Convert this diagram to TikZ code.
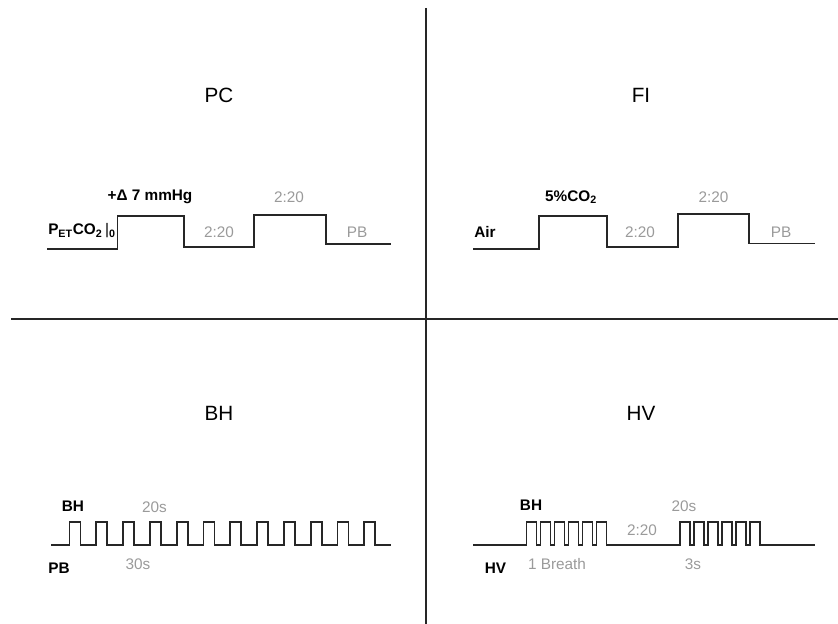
\documentclass[tikz,border=0pt]{standalone}
\usepackage{fontspec}
\setmainfont{Liberation Sans}
\usepackage{xcolor}
\usepackage{tikz}
\usetikzlibrary{positioning}
\definecolor{lblgray}{HTML}{9A9A9A}
\definecolor{linegray}{HTML}{262626}

\begin{document}
\begin{tikzpicture}[
  x=0.75pt, y=-0.75pt,
  ttl/.style={inner sep=0pt, font=\fontsize{15.5}{18}\selectfont},
  tag/.style={inner sep=0pt, font=\fontsize{11.5}{13}\selectfont\bfseries},
  lbl/.style={inner sep=0pt, text=lblgray, font=\fontsize{11.5}{13}\selectfont},
  wave/.style={draw=linegray, line width=1.3pt, line join=miter},
  divider/.style={draw=linegray, line width=1.1pt}
]
\useasboundingbox (0,0) rectangle (838,624);

% quadrant dividers
\draw[divider] (426,8) -- (426,624);
\draw[divider] (11,319) -- (838,319);

% titles
\node[ttl] (pc) at (219,95)  {PC};
\node[ttl] (fi) at (641,95)  {FI};
\node[ttl] (bh) at (219,413) {BH};
\node[ttl] (hv) at (641,413) {HV};

% PC
\draw[wave] (47,249) -- (117.5,249) -- (117.5,216) -- (184,216) -- (184,247)
  -- (254,247) -- (254,215) -- (326,215) -- (326,244) -- (391,244);
\node[tag, anchor=west] (pcBase) at (48,231) {P\textsubscript{ET}CO\textsubscript{2}\,{\mdseries\textbar}\textsubscript{0}};
\node[tag] (pcStep)  at (150,197) {+Δ 7 mmHg};
\node[lbl] (pcLowT)  at (219,232) {2:20};
\node[lbl] (pcHighT) at (289,197) {2:20};
\node[lbl] (pcEnd)   at (357,232) {PB};

% FI
\draw[wave] (473,249) -- (539,249) -- (539,216) -- (607,216) -- (607,247)
  -- (678,247) -- (678,214) -- (749,214) -- (749,243.5) -- (815,243.5);
\node[tag] (fiAir)   at (485,232) {Air};
\node[tag] (fiGas)   at (571,197) {5\%CO\textsubscript{2}};
\node[lbl] (fiLowT)  at (640,232) {2:20};
\node[lbl] (fiHighT) at (713.5,197) {2:20};
\node[lbl] (fiEnd)   at (781,232) {PB};

% BH
\draw[wave] (51,545) \foreach \k in {0,...,11} {
  -- ({69.5+26.8*\k},545) -- ++(0,-23) -- ++(11,0) -- ++(0,23) } -- (391,545);
\node[tag] (bhHold)  at (73,506.5) {BH};
\node[lbl] (bhHoldT) at (154.5,507) {20s};
\node[tag] (bhPace)  at (59,568)   {PB};
\node[lbl] (bhPaceT) at (138,564)  {30s};

% HV
\draw[wave] (473,545) \foreach \s in {526.5,680} { \foreach \k in {0,...,5} {
  -- ({\s+14*\k},545) -- ++(0,-23) -- ++(10,0) -- ++(0,23) } } -- (815,545);
\node[tag] (hvHold)   at (531,505)   {BH};
\node[lbl] (hvHoldT)  at (684,506)   {20s};
\node[lbl] (hvRestT)  at (642,530.5) {2:20};
\node[tag] (hvVent)   at (495.5,568) {HV};
\node[lbl] (hvBreath) at (557,564)   {1 Breath};
\node[lbl] (hvVentT)  at (693,564)   {3s};
\end{tikzpicture}
\end{document}
